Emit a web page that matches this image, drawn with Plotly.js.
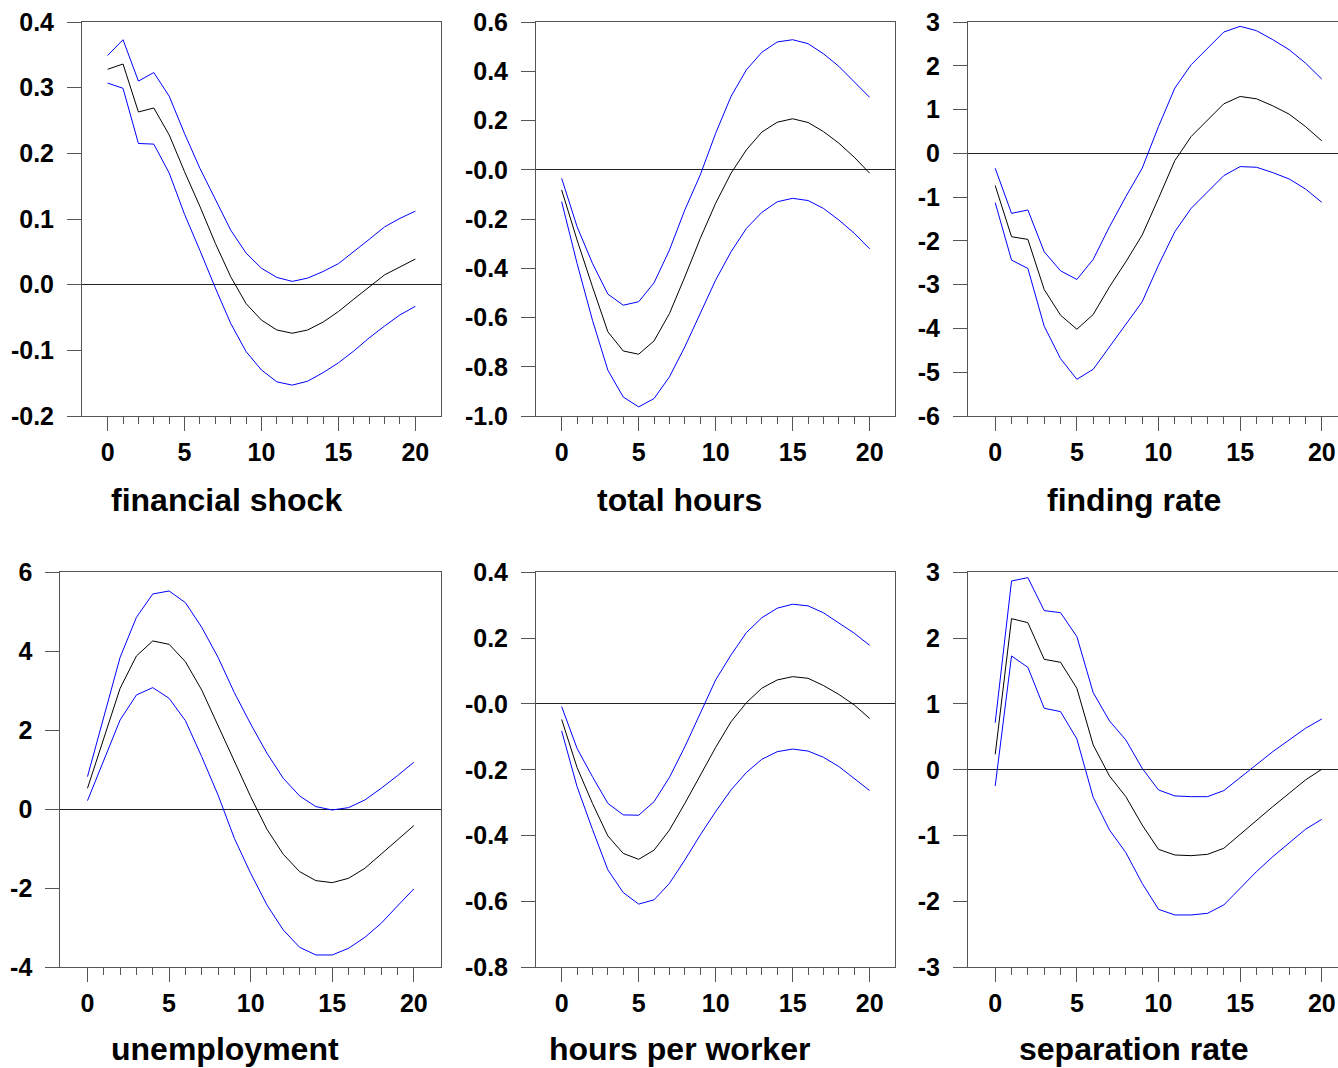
<!DOCTYPE html>
<html>
<head>
<meta charset="utf-8">
<script src="https://cdn.plot.ly/plotly-3.0.1.min.js"></script>
<style>
html, body { margin: 0; padding: 0; overflow: hidden; background: #fff; }
#chart { width: 1349px; height: 1068px; }
</style>
</head>
<body>
<div id="chart"></div>
<script>
// horizon
const horizon = [0,1,2,3,4,5,6,7,8,9,10,11,12,13,14,15,16,17,18,19,20];

// panel titles
const panelTitles = ["financial shock", "total hours", "finding rate", "unemployment", "hours per worker", "separation rate"];

// financial shock
const finUpper = [0.349,0.373,0.310,0.323,0.287,0.230,0.177,0.131,0.083,0.048,0.025,0.011,0.005,0.010,0.020,0.032,0.050,0.069,0.088,0.101,0.112];
const finMid   = [0.328,0.336,0.263,0.269,0.228,0.172,0.119,0.063,0.012,-0.029,-0.054,-0.069,-0.074,-0.069,-0.057,-0.041,-0.022,-0.003,0.015,0.027,0.039];
const finLower = [0.307,0.299,0.215,0.214,0.170,0.107,0.052,-0.005,-0.059,-0.102,-0.130,-0.148,-0.153,-0.147,-0.134,-0.119,-0.101,-0.081,-0.063,-0.046,-0.033];

// total hours
const thUpper = [-0.035,-0.231,-0.380,-0.505,-0.550,-0.536,-0.459,-0.326,-0.163,-0.021,0.148,0.298,0.406,0.477,0.519,0.528,0.512,0.471,0.420,0.359,0.294];
const thMid   = [-0.082,-0.285,-0.475,-0.658,-0.736,-0.749,-0.695,-0.584,-0.435,-0.279,-0.136,-0.014,0.081,0.153,0.193,0.207,0.192,0.155,0.108,0.051,-0.014];
const thLower = [-0.130,-0.380,-0.611,-0.814,-0.923,-0.963,-0.929,-0.841,-0.719,-0.584,-0.448,-0.333,-0.238,-0.173,-0.130,-0.116,-0.125,-0.157,-0.204,-0.258,-0.321];

// finding rate
const frUpper = [-0.341,-1.371,-1.294,-2.248,-2.683,-2.881,-2.423,-1.676,-0.989,-0.341,0.613,1.490,2.024,2.405,2.771,2.901,2.802,2.596,2.367,2.062,1.696];
const frMid   = [-0.738,-1.905,-1.966,-3.110,-3.697,-4.018,-3.682,-3.049,-2.477,-1.867,-1.027,-0.166,0.384,0.765,1.131,1.299,1.246,1.085,0.895,0.612,0.285];
const frLower = [-1.127,-2.439,-2.629,-3.949,-4.689,-5.162,-4.933,-4.422,-3.926,-3.392,-2.553,-1.790,-1.256,-0.875,-0.509,-0.303,-0.318,-0.440,-0.585,-0.814,-1.119];

// unemployment
const unUpper = [0.827,2.346,3.848,4.861,5.451,5.527,5.232,4.608,3.848,2.954,2.160,1.418,0.785,0.338,0.068,-0.017,0.042,0.236,0.532,0.852,1.190];
const unMid   = [0.532,1.797,3.063,3.882,4.262,4.177,3.738,3.021,2.135,1.207,0.321,-0.506,-1.139,-1.578,-1.806,-1.857,-1.747,-1.494,-1.139,-0.776,-0.414];
const unLower = [0.219,1.249,2.262,2.895,3.080,2.810,2.245,1.333,0.363,-0.734,-1.620,-2.422,-3.055,-3.494,-3.688,-3.688,-3.519,-3.241,-2.886,-2.447,-2.017];

// hours per worker
const hwUpper = [-0.008,-0.135,-0.221,-0.302,-0.337,-0.338,-0.297,-0.223,-0.130,-0.026,0.073,0.149,0.217,0.262,0.291,0.303,0.298,0.277,0.247,0.215,0.178];
const hwMid   = [-0.047,-0.193,-0.302,-0.401,-0.454,-0.472,-0.444,-0.383,-0.302,-0.216,-0.132,-0.054,0.004,0.048,0.073,0.083,0.078,0.056,0.029,-0.003,-0.044];
const hwLower = [-0.082,-0.251,-0.381,-0.504,-0.573,-0.608,-0.595,-0.545,-0.474,-0.398,-0.327,-0.261,-0.208,-0.168,-0.145,-0.137,-0.143,-0.162,-0.190,-0.226,-0.263];

// separation rate
const srUpper = [0.716,2.868,2.919,2.418,2.387,2.023,1.172,0.742,0.453,0.023,-0.306,-0.397,-0.408,-0.408,-0.316,-0.119,0.089,0.276,0.453,0.630,0.772];
const srMid   = [0.235,2.296,2.235,1.678,1.633,1.238,0.377,-0.094,-0.408,-0.838,-1.208,-1.294,-1.304,-1.284,-1.192,-0.980,-0.762,-0.559,-0.357,-0.154,0.008];
const srLower = [-0.246,1.729,1.557,0.934,0.884,0.468,-0.418,-0.914,-1.258,-1.724,-2.119,-2.205,-2.205,-2.180,-2.053,-1.800,-1.547,-1.319,-1.106,-0.904,-0.752];

// y tick values and labels
const finTickVals = [0.4,0.3,0.2,0.1,0.0,-0.1,-0.2];
const finTickText = ["0.4","0.3","0.2","0.1","0.0","-0.1","-0.2"];
const thTickVals = [0.6,0.4,0.2,0.0,-0.2,-0.4,-0.6,-0.8,-1.0];
const thTickText = ["0.6","0.4","0.2","-0.0","-0.2","-0.4","-0.6","-0.8","-1.0"];
const frTickVals = [3,2,1,0,-1,-2,-3,-4,-5,-6];
const frTickText = ["3","2","1","0","-1","-2","-3","-4","-5","-6"];
const unTickVals = [6,4,2,0,-2,-4];
const unTickText = ["6","4","2","0","-2","-4"];
const hwTickVals = [0.4,0.2,0.0,-0.2,-0.4,-0.6,-0.8];
const hwTickText = ["0.4","0.2","-0.0","-0.2","-0.4","-0.6","-0.8"];
const srTickVals = [3,2,1,0,-1,-2,-3];
const srTickText = ["3","2","1","0","-1","-2","-3"];

// x ticks
const xMajorTicks = [0,5,10,15,20];
const xMinorTicks = [1,2,3,4,6,7,8,9,11,12,13,14,16,17,18,19];

const panels = [
  {u: finUpper, m: finMid, l: finLower, yr: [-0.2, 0.4], tv: finTickVals, tt: finTickText},
  {u: thUpper, m: thMid, l: thLower, yr: [-1.0, 0.6], tv: thTickVals, tt: thTickText},
  {u: frUpper, m: frMid, l: frLower, yr: [-6, 3], tv: frTickVals, tt: frTickText},
  {u: unUpper, m: unMid, l: unLower, yr: [-4, 6], tv: unTickVals, tt: unTickText},
  {u: hwUpper, m: hwMid, l: hwLower, yr: [-0.8, 0.4], tv: hwTickVals, tt: hwTickText},
  {u: srUpper, m: srMid, l: srLower, yr: [-3, 3], tv: srTickVals, tt: srTickText}
];

const W = 1349, H = 1068;
const xDomPx = [[82, 441], [536, 895.3], [968, 1349], [60.3, 441], [536, 895.3], [968, 1349]];
const yDomPx = [[22, 416], [22, 416], [22, 416], [572.3, 967.3], [572.3, 967.3], [572.3, 967.3]];
const titleCx = [226, 679, 1133.5, 225, 679, 1133.5];
const titleCy = [500, 500, 500, 1049, 1049, 1049];

const frameColor = "#555555";
const tickFont = {family: "Liberation Sans, Arial, sans-serif", size: 25, color: "#000", weight: 700};

const traces = [];
const layout = {
  width: W, height: H,
  margin: {l: 0, r: 0, t: 0, b: 0},
  paper_bgcolor: "#fff", plot_bgcolor: "#fff",
  showlegend: false,
  annotations: []
};

panels.forEach((p, i) => {
  const n = i + 1;
  const xa = n === 1 ? "x" : "x" + n;
  const ya = n === 1 ? "y" : "y" + n;
  const xk = n === 1 ? "xaxis" : "xaxis" + n;
  const yk = n === 1 ? "yaxis" : "yaxis" + n;
  traces.push({x: horizon, y: p.u, xaxis: xa, yaxis: ya, mode: "lines", line: {color: "#0000ff", width: 1}, hoverinfo: "skip"});
  traces.push({x: horizon, y: p.l, xaxis: xa, yaxis: ya, mode: "lines", line: {color: "#0000ff", width: 1}, hoverinfo: "skip"});
  traces.push({x: horizon, y: p.m, xaxis: xa, yaxis: ya, mode: "lines", line: {color: "#000000", width: 1}, hoverinfo: "skip"});
  layout[xk] = {
    domain: [xDomPx[i][0] / W, xDomPx[i][1] / W],
    anchor: ya,
    range: [-5/3, 65/3],
    showgrid: false, zeroline: false,
    showline: true, mirror: true, linecolor: frameColor, linewidth: 1,
    tickmode: "array", tickvals: xMajorTicks, ticktext: xMajorTicks.map(String),
    ticks: "outside", ticklen: 14, tickwidth: 1, tickcolor: frameColor,
    tickfont: tickFont,
    minor: {tickmode: "array", tickvals: xMinorTicks, ticks: "outside", ticklen: 7, tickwidth: 1, tickcolor: frameColor, showgrid: false},
    fixedrange: true
  };
  layout[yk] = {
    domain: [1 - yDomPx[i][1] / H, 1 - yDomPx[i][0] / H],
    anchor: xa,
    range: p.yr,
    showgrid: false,
    zeroline: true, zerolinecolor: "#222", zerolinewidth: 1,
    showline: true, mirror: true, linecolor: frameColor, linewidth: 1,
    tickmode: "array", tickvals: p.tv, ticktext: p.tt,
    ticks: "outside", ticklen: 14, tickwidth: 1, tickcolor: frameColor,
    tickfont: tickFont,
    ticklabelstandoff: 8,
    fixedrange: true
  };
  layout.annotations.push({
    text: panelTitles[i],
    xref: "paper", yref: "paper",
    x: titleCx[i] / W, y: 1 - titleCy[i] / H,
    xanchor: "center", yanchor: "middle",
    showarrow: false,
    font: {family: "Liberation Sans, Arial, sans-serif", size: 32, color: "#000", weight: 700}
  });
});

Plotly.newPlot("chart", traces, layout, {displayModeBar: false, staticPlot: true});
</script>
</body>
</html>
